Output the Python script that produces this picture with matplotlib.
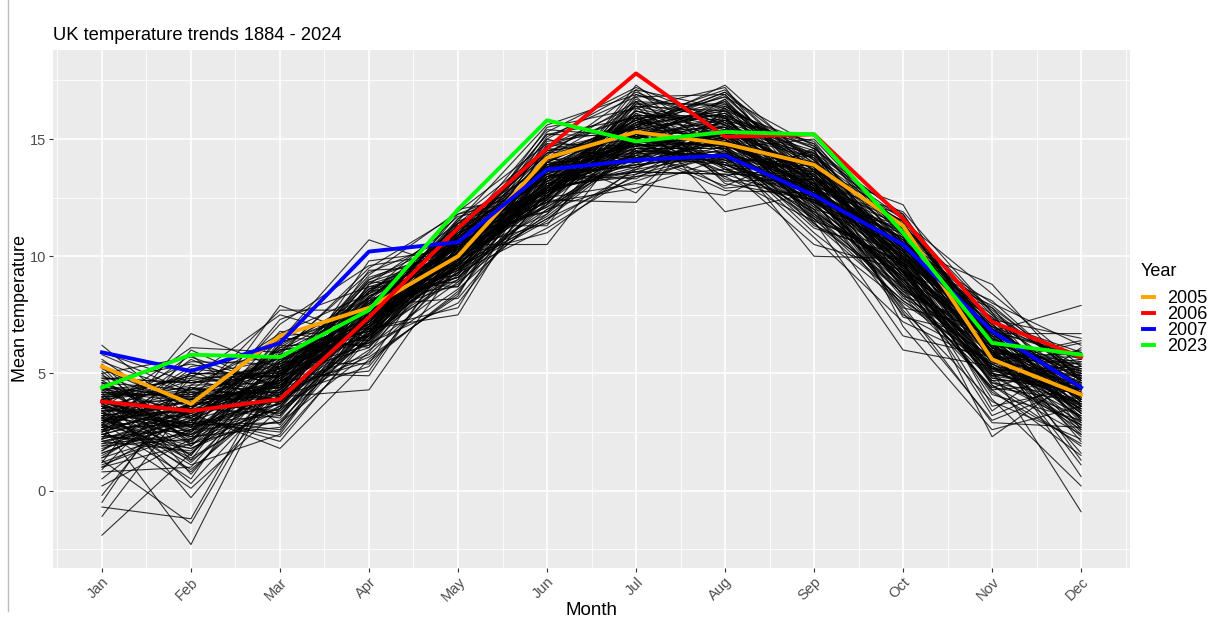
import matplotlib
matplotlib.use("Agg")
import matplotlib.pyplot as plt
from matplotlib.lines import Line2D

plt.rcParams["font.family"] = ["Liberation Sans", "DejaVu Sans"]

months = ["Jan", "Feb", "Mar", "Apr", "May", "Jun", "Jul", "Aug", "Sep", "Oct", "Nov", "Dec"]

# highlighted years
hl_years = ["2005", "2006", "2007", "2023"]
hl_colors = ["orange", "red", "blue", "#00FF00"]
y2005 = [5.3, 3.7, 6.6, 7.8, 10.0, 14.2, 15.3, 14.8, 13.9, 11.3, 5.6, 4.1]
y2006 = [3.8, 3.4, 3.9, 7.4, 11.2, 14.6, 17.8, 15.1, 15.2, 11.6, 7.2, 5.7]
y2007 = [5.9, 5.1, 6.3, 10.2, 10.6, 13.7, 14.1, 14.3, 12.6, 10.5, 6.8, 4.4]
y2023 = [4.4, 5.8, 5.7, 7.7, 12.0, 15.8, 14.9, 15.3, 15.2, 11.0, 6.3, 5.8]

# all other years 1884-2024, one list per month (estimated from the bundle)
jan = [3.1, 2.4, 4.0, 1.2, 3.6, 2.8, 4.4, 0.9, 3.3, 2.1,
       -0.7, 3.8, 2.6, 4.1, 1.7, 3.0, 2.2, 5.0, 3.4, 1.0,
       2.9, 4.6, 3.2, 0.5, 2.5, 3.7, 1.9, 4.2, 2.7, 3.5,
       -1.9, 2.0, 3.9, 4.8, 1.4, 3.1, 2.3, 4.5, 3.6, 2.8,
       1.6, 3.3, 5.4, 2.4, 0.2, 3.8, 2.9, 4.0, 1.8, 3.2,
       2.6, 4.3, -0.2, 3.5, 2.1, 3.0, 4.7, 2.7, 1.3, 3.4,
       5.1, 2.5, 3.9, 1.1, 3.1, 4.4, 2.2, 3.6, -1.1, 2.9,
       4.1, 3.3, 1.5, 2.8, 3.7, 5.6, 2.3, 4.0, 3.2, 0.8,
       2.6, 3.5, 4.6, 1.9, 3.0, 2.4, 4.2, 3.8, -0.5, 2.7,
       3.4, 5.2, 2.0, 3.9, 1.6, 3.1, 4.5, 2.5, 3.6, 4.8,
       1.0, 3.3, 2.9, 4.3, 3.7, 5.8, 2.2, 3.0, 4.1, 1.4,
       3.5, 4.9, 2.6, 3.8, 6.2, 2.8, 4.4, 3.2, 1.7, 4.0,
       5.3, 3.6, 2.4, 4.7, 3.1, 5.5, 1.2, 4.2, 3.9, 2.7,
       4.6, 3.4, 5.0, 2.1, 4.3, 3.7, 5.9]
feb = [3.4, 1.8, 4.2, 2.6, 0.3, 3.9, 2.2, 4.8, 1.1, 3.0,
       -1.2, 2.9, 3.6, 1.5, 4.4, 2.4, 3.2, 0.7, 3.8, 2.0,
       4.1, 2.7, 1.3, 3.5, 5.2, 2.3, 3.1, -0.3, 2.8, 4.0,
       1.6, 3.3, 2.5, 4.6, 3.7, 0.9, 2.1, 3.9, 2.6, -2.3,
       3.0, 4.3, 1.9, 3.4, 2.2, 5.0, 3.6, 1.2, 2.9, 3.8,
       0.1, 2.4, 4.5, 3.1, 1.7, 3.5, 2.7, 4.2, -1.4, 3.3,
       2.0, 3.7, 4.9, 2.5, 1.4, 3.2, 6.7, 2.8, 3.9, 0.5,
       4.1, 2.3, 3.4, 1.8, 5.5, 3.0, 2.6, 4.4, 3.6, 1.0,
       2.9, 4.7, 3.1, 2.2, 3.8, 1.6, 4.0, 2.7, 5.1, 3.3,
       0.8, 3.5, 2.4, 4.3, 3.0, 5.8, 2.1, 3.7, 1.5, 4.6,
       3.2, 2.8, 5.3, 3.9, 2.0, 4.2, 3.4, 1.9, 4.8, 2.6,
       6.1, 3.6, 4.4, 2.5, 3.1, 5.6, 4.0, 2.9, 3.7, 4.9,
       1.3, 4.5, 3.3, 5.4, 2.7, 4.1, 6.0, 3.8, 2.3, 5.0,
       4.3, 3.5, 5.7, 2.8, 4.7, 3.9, 4.6]
mar = [4.6, 3.8, 5.2, 2.9, 4.4, 5.7, 3.5, 4.9, 2.4, 4.1,
       5.5, 3.2, 4.7, 6.0, 3.9, 4.3, 2.1, 5.0, 4.5, 3.6,
       5.3, 4.0, 6.3, 3.3, 4.8, 2.7, 5.1, 4.2, 3.7, 5.8,
       4.6, 1.8, 4.9, 5.4, 3.4, 4.1, 6.5, 3.9, 4.7, 5.2,
       2.6, 4.4, 5.6, 3.8, 4.0, 5.0, 3.1, 4.8, 6.1, 4.3,
       3.5, 5.3, 4.6, 2.3, 4.9, 5.7, 3.7, 4.2, 5.1, 4.5,
       3.0, 5.5, 4.1, 6.8, 3.6, 4.7, 5.2, 2.9, 4.4, 5.9,
       3.9, 5.0, 4.3, 3.4, 5.4, 4.8, 6.2, 3.8, 4.6, 5.3,
       2.5, 4.0, 5.6, 4.9, 3.3, 5.1, 4.2, 7.9, 3.7, 5.8,
       4.5, 6.0, 3.5, 5.2, 4.7, 2.8, 5.5, 4.1, 6.4, 4.9,
       5.0, 3.9, 5.7, 4.4, 6.6, 3.6, 5.3, 4.8, 7.5, 4.2,
       5.9, 4.6, 3.2, 5.4, 6.1, 4.0, 5.1, 7.1, 4.7, 5.6,
       3.8, 6.3, 5.0, 4.5, 7.3, 5.2, 4.3, 6.0, 5.5, 4.9,
       6.7, 5.8, 4.4, 6.2, 5.3, 7.7, 5.1]
apr = [7.1, 6.4, 7.8, 5.9, 7.3, 6.8, 8.2, 6.1, 7.5, 6.6,
       5.4, 7.0, 7.9, 6.3, 7.4, 8.5, 6.7, 7.2, 5.8, 7.6,
       6.9, 4.3, 7.7, 6.5, 8.0, 7.1, 6.2, 7.4, 8.8, 6.8,
       7.3, 5.6, 7.9, 6.6, 7.0, 8.3, 6.4, 7.5, 5.1, 7.2,
       6.9, 8.1, 6.3, 7.6, 7.0, 4.9, 7.8, 6.7, 8.4, 7.3,
       6.0, 7.1, 7.7, 6.5, 8.6, 7.4, 6.8, 5.7, 7.9, 7.2,
       6.6, 8.2, 7.0, 6.1, 7.5, 9.1, 6.9, 7.3, 5.5, 7.8,
       6.4, 8.0, 7.6, 6.7, 7.1, 8.7, 6.2, 7.4, 8.3, 6.9,
       7.7, 5.3, 7.2, 8.5, 6.8, 7.0, 9.4, 6.5, 7.9, 7.3,
       8.1, 6.6, 7.5, 8.9, 6.3, 7.8, 7.1, 8.4, 10.7, 7.4,
       6.7, 8.2, 7.6, 9.0, 6.9, 8.0, 7.3, 8.6, 6.4, 7.7,
       9.3, 7.2, 8.3, 7.9, 6.8, 8.8, 7.5, 9.6, 8.1, 7.0,
       8.5, 7.8, 9.2, 7.4, 8.7, 6.6, 9.8, 8.0, 7.6, 8.9,
       8.4, 9.5, 7.9, 8.2, 9.0, 7.7, 8.6]
may = [9.8, 10.4, 9.1, 10.9, 9.5, 10.2, 8.7, 10.0, 9.3, 10.6,
       11.2, 9.6, 8.2, 10.1, 9.9, 10.7, 9.0, 10.3, 9.4, 11.0,
       7.5, 9.7, 10.5, 9.2, 10.8, 9.8, 8.9, 10.2, 11.4, 9.5,
       10.0, 8.4, 10.6, 9.3, 10.1, 9.9, 11.1, 8.8, 10.4, 9.6,
       10.3, 9.1, 8.0, 10.7, 9.7, 10.5, 9.4, 11.6, 9.9, 10.2,
       8.6, 10.0, 9.5, 10.9, 9.2, 10.4, 9.8, 8.3, 10.6, 10.1,
       9.6, 11.3, 9.3, 10.8, 9.0, 10.3, 9.7, 11.8, 8.5, 10.0,
       9.9, 10.5, 9.4, 11.0, 10.2, 8.9, 10.7, 9.5, 10.4, 7.8,
       10.1, 9.8, 11.5, 9.2, 10.6, 10.0, 9.6, 10.9, 9.1, 10.3,
       11.2, 9.7, 10.5, 8.7, 10.8, 9.9, 10.2, 11.7, 9.4, 10.9,
       10.0, 11.1, 9.8, 10.4, 12.0, 9.5, 10.7, 10.1, 11.4, 9.9,
       10.9, 10.3, 9.6, 11.3, 10.5, 10.0, 11.6, 10.2, 9.7, 10.8,
       11.0, 10.4, 11.9, 10.6, 9.8, 11.2, 10.3, 10.9, 11.5, 10.1,
       10.7, 11.8, 10.5, 11.1, 10.8, 11.4, 10.6]
jun = [13.2, 12.1, 12.9, 13.8, 11.6, 12.5, 13.4, 12.8, 14.1, 12.3,
       11.9, 13.6, 12.7, 13.0, 12.2, 14.4, 12.6, 11.4, 13.3, 12.9,
       13.7, 12.4, 10.5, 13.1, 12.8, 14.0, 11.8, 12.6, 13.5, 12.0,
       12.9, 13.9, 12.3, 11.2, 13.2, 12.7, 14.6, 12.5, 13.0, 11.7,
       13.4, 12.2, 12.8, 15.2, 12.6, 13.1, 11.5, 13.8, 12.4, 13.3,
       12.0, 14.2, 12.9, 11.9, 13.6, 12.5, 13.0, 14.8, 12.3, 12.8,
       13.5, 11.3, 13.2, 12.7, 14.3, 12.1, 13.7, 12.6, 13.0, 11.8,
       12.4, 13.9, 12.9, 14.5, 12.2, 13.3, 12.8, 11.6, 13.6, 14.0,
       12.5, 13.1, 12.7, 15.0, 13.4, 11.0, 12.9, 13.8, 12.3, 14.1,
       13.2, 12.6, 13.5, 14.7, 12.8, 13.0, 14.4, 12.4, 13.7, 15.4,
       12.9, 13.3, 14.2, 13.6, 12.7, 14.9, 13.1, 13.8, 12.5, 14.0,
       13.4, 15.5, 13.0, 14.3, 12.8, 13.9, 14.6, 13.2, 15.1, 13.7,
       14.1, 12.9, 14.8, 13.5, 15.3, 14.0, 13.6, 14.5, 15.6, 13.8,
       14.2, 13.3, 15.0, 14.7, 13.9, 14.4, 15.2]
jul = [15.0, 14.2, 13.6, 15.8, 14.5, 16.2, 13.9, 14.8, 15.3, 12.9,
       14.4, 15.6, 14.0, 13.4, 16.6, 14.7, 15.1, 13.7, 14.3, 15.9,
       14.6, 12.3, 15.4, 14.1, 13.8, 16.0, 14.9, 15.2, 13.3, 14.5,
       16.4, 14.0, 15.0, 13.5, 14.8, 15.7, 14.2, 13.1, 15.5, 14.6,
       13.9, 16.8, 14.4, 15.1, 14.7, 13.6, 15.3, 14.1, 16.1, 14.9,
       13.2, 15.6, 14.3, 15.0, 13.8, 17.1, 14.5, 14.0, 15.4, 13.7,
       14.8, 16.3, 14.2, 15.2, 12.7, 14.6, 15.8, 14.4, 13.9, 16.5,
       15.1, 14.7, 13.5, 15.5, 14.3, 16.0, 14.9, 13.4, 15.7, 14.1,
       16.9, 14.6, 15.3, 14.0, 15.0, 13.8, 16.2, 14.8, 15.6, 14.4,
       13.6, 15.9, 14.7, 16.4, 15.2, 14.2, 15.5, 17.3, 14.9, 15.1,
       16.7, 14.5, 15.8, 14.8, 16.1, 15.4, 14.3, 15.0, 16.6, 15.7,
       14.6, 16.3, 15.2, 17.0, 15.5, 14.9, 16.0, 15.3, 16.8, 15.1,
       15.9, 16.5, 14.7, 15.6, 17.2, 15.8, 16.2, 15.0, 16.9, 15.4,
       16.4, 15.7, 17.1, 16.0, 15.5, 16.6, 15.9]
aug = [14.1, 15.3, 13.5, 14.7, 12.8, 15.0, 14.4, 13.9, 16.1, 14.2,
       15.6, 13.7, 14.9, 14.3, 13.1, 15.2, 14.6, 15.9, 13.4, 14.8,
       14.0, 16.4, 13.8, 14.5, 15.1, 11.9, 14.7, 13.6, 15.4, 14.2,
       13.3, 14.9, 16.0, 14.4, 13.9, 15.5, 14.1, 12.6, 15.0, 14.6,
       15.8, 13.7, 14.3, 16.6, 14.8, 13.5, 15.2, 14.0, 13.2, 15.7,
       14.5, 16.2, 13.9, 14.7, 15.3, 14.2, 13.0, 15.0, 16.9, 14.4,
       13.6, 15.5, 14.8, 14.1, 16.3, 14.6, 13.8, 15.1, 14.3, 15.9,
       12.9, 14.9, 15.4, 14.0, 16.7, 14.5, 15.2, 13.7, 14.8, 16.0,
       15.6, 14.2, 13.4, 15.0, 16.5, 14.7, 15.3, 14.4, 17.0, 15.8,
       14.6, 13.9, 15.5, 16.2, 14.9, 15.1, 17.3, 14.5, 15.7, 16.4,
       15.0, 14.3, 16.8, 15.4, 14.8, 16.1, 15.2, 15.9, 14.6, 16.6,
       15.3, 17.2, 14.9, 15.6, 16.3, 15.0, 16.0, 15.5, 16.9, 15.8,
       14.7, 16.5, 15.2, 16.2, 15.7, 17.1, 15.4, 16.7, 15.9, 16.1,
       15.6, 16.8, 16.3, 15.8, 17.0, 16.4, 16.0]
sep = [12.9, 11.8, 13.4, 12.2, 12.7, 11.3, 13.1, 12.5, 13.8, 12.0,
       11.6, 12.8, 13.3, 10.8, 12.4, 13.6, 12.1, 12.9, 11.5, 13.0,
       12.6, 14.1, 11.9, 12.3, 13.5, 12.7, 10.0, 12.9, 13.2, 11.7,
       12.4, 13.9, 12.2, 11.4, 12.8, 13.4, 12.0, 14.4, 12.6, 11.2,
       13.1, 12.5, 13.7, 11.8, 12.9, 12.3, 14.2, 11.6, 13.3, 12.7,
       11.0, 13.0, 12.4, 13.8, 12.1, 12.8, 14.6, 11.9, 13.2, 12.6,
       13.5, 11.5, 12.9, 14.0, 12.3, 13.1, 10.5, 12.7, 13.6, 12.2,
       13.3, 12.8, 11.7, 14.3, 12.5, 13.0, 12.0, 13.9, 12.6, 11.4,
       13.4, 12.9, 14.5, 12.4, 13.2, 11.8, 13.7, 12.7, 14.1, 13.0,
       12.3, 13.5, 12.8, 14.8, 13.1, 12.5, 13.9, 11.6, 13.3, 14.2,
       12.9, 13.6, 14.7, 12.6, 13.4, 13.0, 14.4, 12.8, 15.0, 13.2,
       13.8, 12.4, 14.0, 13.5, 14.6, 12.9, 13.7, 14.3, 13.1, 14.9,
       13.3, 14.1, 12.7, 13.9, 14.5, 13.6, 14.2, 13.0, 14.8, 13.8,
       14.4, 13.4, 14.0, 14.7, 13.6, 14.3, 14.6]
octo = [9.6, 8.4, 10.2, 9.0, 7.7, 9.8, 10.6, 8.8, 9.3, 11.0,
        8.1, 9.5, 10.0, 7.2, 9.1, 10.4, 8.6, 9.7, 6.0, 9.2,
        10.8, 8.9, 9.4, 7.9, 10.1, 8.5, 9.9, 11.3, 8.3, 9.6,
        7.5, 10.3, 9.0, 8.7, 10.7, 9.3, 6.6, 9.8, 8.2, 10.0,
        9.4, 11.1, 8.8, 9.1, 7.8, 10.5, 9.7, 8.4, 10.2, 9.5,
        8.0, 11.5, 9.2, 8.6, 10.4, 9.9, 7.0, 9.3, 10.9, 8.9,
        9.6, 10.1, 8.3, 9.8, 11.2, 8.7, 9.4, 10.6, 7.4, 9.1,
        10.3, 9.7, 8.5, 11.6, 9.0, 10.0, 8.8, 9.5, 10.8, 8.1,
        9.9, 11.0, 9.3, 10.2, 8.6, 9.6, 11.4, 9.2, 10.5, 7.6,
        9.8, 10.1, 11.8, 9.4, 10.7, 8.9, 10.3, 9.7, 11.2, 9.1,
        10.4, 12.2, 9.5, 10.0, 11.5, 9.9, 10.6, 8.7, 11.0, 10.2,
        9.6, 11.3, 10.8, 9.8, 11.7, 10.1, 9.3, 10.9, 11.9, 10.4,
        9.9, 11.1, 10.5, 11.6, 10.0, 10.7, 11.4, 9.7, 11.0, 10.3,
        11.8, 10.6, 11.2, 10.9, 11.5, 10.2, 11.3]
nov = [5.9, 4.7, 6.4, 5.2, 3.8, 6.0, 5.5, 4.3, 6.8, 5.0,
       5.7, 4.1, 6.2, 5.4, 3.2, 5.8, 6.5, 4.9, 5.3, 7.1,
       4.5, 5.6, 6.1, 2.9, 5.1, 6.7, 4.8, 5.9, 4.4, 6.3,
       5.5, 3.6, 6.0, 5.2, 7.3, 4.6, 5.7, 2.3, 6.4, 5.0,
       4.2, 6.1, 5.8, 4.9, 6.9, 5.3, 3.9, 5.6, 6.6, 4.7,
       5.4, 7.6, 5.1, 4.4, 6.2, 5.9, 2.6, 5.5, 6.8, 4.8,
       6.0, 5.2, 7.0, 4.5, 5.7, 6.3, 3.4, 5.9, 6.5, 5.0,
       5.6, 7.4, 4.9, 6.1, 5.3, 6.7, 4.3, 5.8, 7.2, 5.4,
       6.4, 5.1, 7.8, 5.7, 6.0, 4.6, 6.9, 5.5, 6.2, 3.0,
       5.9, 7.1, 6.5, 5.3, 6.8, 5.0, 7.5, 6.1, 5.7, 6.6,
       8.8, 5.8, 6.3, 7.0, 5.4, 6.7, 7.7, 5.9, 6.2, 7.3,
       6.0, 6.9, 5.6, 8.1, 6.4, 7.2, 5.2, 6.8, 7.6, 6.1,
       7.0, 6.5, 8.0, 6.3, 7.4, 5.9, 6.7, 7.9, 6.6, 7.1,
       6.2, 7.8, 6.9, 7.3, 8.4, 6.8, 7.5]
dec = [4.1, 2.8, 3.6, 4.9, 2.2, 3.3, 4.5, 1.5, 3.9, 2.6,
       4.3, 3.0, 0.6, 3.7, 4.8, 2.4, 3.4, 5.2, 2.9, 4.0,
       1.9, 3.5, 4.6, 2.7, -0.9, 3.8, 4.2, 3.1, 5.5, 2.5,
       3.6, 4.4, 1.1, 3.2, 4.7, 3.9, 2.3, 5.0, 3.3, 4.1,
       2.0, 3.7, 5.8, 2.8, 4.3, 3.5, 0.2, 4.0, 3.0, 4.6,
       3.4, 2.6, 5.3, 3.8, 4.4, 1.6, 3.6, 4.9, 2.9, 4.2,
       3.1, 5.6, 3.9, 2.4, 4.5, 3.3, 6.1, 3.7, 1.3, 4.1,
       4.8, 3.0, 4.3, 5.1, 2.7, 3.8, 4.6, 3.5, 5.9, 4.0,
       2.1, 4.4, 3.6, 5.4, 4.2, 3.2, 4.7, 6.3, 3.9, 4.5,
       2.8, 4.1, 5.0, 3.7, 7.9, 4.3, 3.4, 4.9, 5.7, 4.0,
       4.6, 3.6, 5.2, 4.4, 6.0, 3.8, 4.8, 5.5, 4.2, 3.1,
       5.0, 4.5, 6.4, 4.7, 3.9, 5.3, 4.1, 5.8, 4.9, 4.3,
       5.6, 4.6, 6.2, 5.1, 4.4, 5.4, 6.7, 4.8, 5.2, 4.0,
       5.9, 5.0, 4.7, 6.5, 5.3, 5.7, 5.1]

x = list(range(1, 13))

fig = plt.figure(figsize=(12.13, 6.2), dpi=100)
ax = fig.add_axes([0.0437, 0.0839, 0.8879, 0.8355])
ax.set_facecolor("#EBEBEB")

# grey-theme grid
for v in [0.5 + i for i in range(13)]:
    ax.axvline(v, color="white", lw=0.6, zorder=0)
for v in x:
    ax.axvline(v, color="white", lw=1.2, zorder=0)
for v in [-2.5, 2.5, 7.5, 12.5, 17.5]:
    ax.axhline(v, color="white", lw=0.6, zorder=0)
for v in [0, 5, 10, 15]:
    ax.axhline(v, color="white", lw=1.2, zorder=0)

for row in zip(jan, feb, mar, apr, may, jun, jul, aug, sep, octo, nov, dec):
    ax.plot(x, row, color="black", lw=0.8, alpha=0.8, zorder=2)

hl_handles = []
for vals, col, yr in zip([y2005, y2006, y2007, y2023], hl_colors, hl_years):
    h, = ax.plot(x, vals, color=col, lw=2.8, zorder=3, label=yr)
    hl_handles.append(h)

ax.set_xlim(0.45, 12.55)
ax.set_ylim(-3.3, 18.8)
ax.set_xticks(x)
ax.set_xticklabels(months, rotation=45, ha="right", rotation_mode="anchor")
ax.set_yticks([0, 5, 10, 15])
ax.tick_params(colors="#333333", labelcolor="#4D4D4D", labelsize=10.5,
               length=3, width=0.8, pad=2)
for s in ax.spines.values():
    s.set_visible(False)

ax.set_xlabel("Month", fontsize=13.5)
ax.xaxis.set_label_coords(0.5, -0.066)
ax.set_ylabel("Mean temperature", fontsize=13)
ax.yaxis.set_label_coords(-0.022, 0.5)
ax.set_title("UK temperature trends 1884 - 2024", loc="left", fontsize=13.2, pad=7)

# legend: title placed separately to get the ggplot gap
fig.text(1141 / 1213, 1 - 272 / 620, "Year", fontsize=13, va="center", ha="left")
leg = fig.legend(handles=hl_handles, loc="upper left",
                 bbox_to_anchor=(1143 / 1213, 1 - 290 / 620), frameon=False,
                 fontsize=13, handlelength=0.6, handletextpad=0.75,
                 labelspacing=-0.05, borderaxespad=0, borderpad=0)

# thin border at the left edge of the screenshot
fig.add_artist(Line2D([0.0066, 0.0066], [0.015, 1.0], color="#BFBFBF", lw=1))

fig.savefig("out.png", dpi=100)
